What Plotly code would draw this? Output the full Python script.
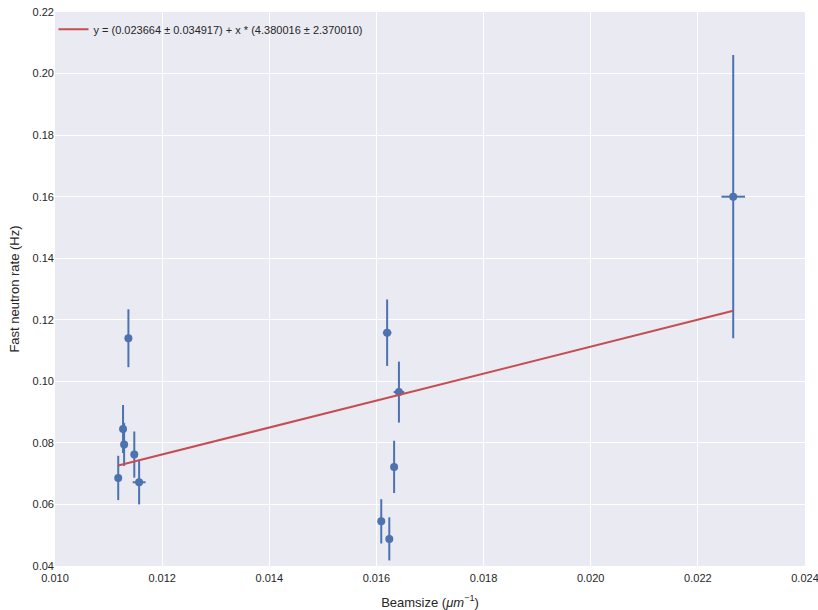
import plotly.graph_objects as go

# Data
beamsize = [0.01118, 0.01127, 0.01129, 0.01137, 0.01148, 0.01157,
            0.01609, 0.01624, 0.01620, 0.01633, 0.01642, 0.02266]
rate = [0.0686, 0.0845, 0.0795, 0.1140, 0.0762, 0.0672,
        0.0545, 0.0488, 0.1158, 0.0722, 0.0965, 0.1600]
rate_err = [0.0072, 0.0078, 0.0070, 0.0094, 0.0075, 0.0072,
            0.0072, 0.0070, 0.0108, 0.0085, 0.0099, 0.0460]
beamsize_err = [0.00003, 0.00003, 0.00003, 0.00003, 0.00003, 0.00012,
                0.00003, 0.00003, 0.00008, 0.00005, 0.00010, 0.00022]

intercept = 0.023664
slope = 4.380016
legend_label = "y = (0.023664 ± 0.034917) + x * (4.380016 ± 2.370010)"

x_ticks = [0.010, 0.012, 0.014, 0.016, 0.018, 0.020, 0.022, 0.024]
y_ticks = [0.04, 0.06, 0.08, 0.10, 0.12, 0.14, 0.16, 0.18, 0.20, 0.22]

blue = "#4C72B0"
red = "#C44E52"

fit_x = [min(beamsize), max(beamsize)]
fit_y = [intercept + slope * v for v in fit_x]

fig = go.Figure()
fig.add_trace(go.Scatter(
    x=beamsize, y=rate, mode="markers",
    marker=dict(color=blue, size=8),
    error_y=dict(type="data", array=rate_err, color=blue, thickness=2, width=0),
    error_x=dict(type="data", array=beamsize_err, color=blue, thickness=2, width=0),
    showlegend=False,
))
fig.add_trace(go.Scatter(
    x=fit_x, y=fit_y, mode="lines",
    line=dict(color=red, width=2),
    name=legend_label,
))

font = dict(family="Liberation Sans, Arial, sans-serif", size=11, color="#262626")
fig.update_layout(
    width=818, height=610,
    margin=dict(l=55, r=13, t=12, b=44, autoexpand=False),
    paper_bgcolor="white", plot_bgcolor="#EAEAF2",
    font=font,
    legend=dict(x=-0.002, y=0.995, xanchor="left", yanchor="top",
                bgcolor="rgba(0,0,0,0)", font=dict(size=11, color="#262626")),
    xaxis=dict(range=[0.0099999, 0.0240001], tickvals=x_ticks,
               ticktext=[f"{v:.3f}" for v in x_ticks],
               showgrid=True, gridcolor="white", gridwidth=1,
               zeroline=False, showline=False, ticks="", automargin=False,
               ticklabeloverflow="allow", ticklabelstandoff=4,
               title=dict(text="Beamsize (<i>μm</i><sup>−1</sup>)", standoff=14)),
    yaxis=dict(range=[0.03999, 0.22001], tickvals=y_ticks,
               ticktext=[f"{v:.2f}" for v in y_ticks],
               showgrid=True, gridcolor="white", gridwidth=1,
               zeroline=False, showline=False, ticks="", automargin=False,
               ticklabeloverflow="allow",
               title=dict(text="Fast neutron rate (Hz)", standoff=10)),
)

fig.write_html("out.html", config={"displayModeBar": False},
               post_script="document.body.style.margin='0';")
